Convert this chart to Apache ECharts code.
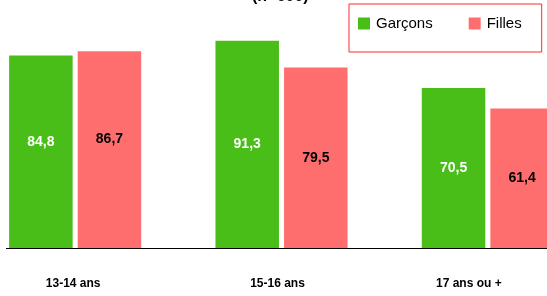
<!DOCTYPE html>
<html>
<head>
<meta charset="utf-8">
<script src="https://cdn.jsdelivr.net/npm/echarts@6/dist/echarts.min.js"></script>
<style>
html,body{margin:0;padding:0;background:#fff;}
#c{width:547px;height:296px;}
</style>
</head>
<body>
<div id="c"></div>
<script>
var categories = ['13-14 ans', '15-16 ans', '17 ans ou +'];
var garcons = [84.8, 91.3, 70.5];
var filles = [86.7, 79.5, 61.4];
var seriesNames = ['Garçons', 'Filles'];
var titleText = '(n=600)';

var FONT = "'Liberation Sans', Arial, sans-serif";
var catShift = [4, 8, 38];
var labelLift = [-10, 0, 0];

function mkData(vals) {
  return vals.map(function (v, i) {
    return { value: v, label: { offset: [0, labelLift[i]] } };
  });
}

var chart = echarts.init(document.getElementById('c'), null, { renderer: 'canvas' });
chart.setOption({
  animation: false,
  backgroundColor: '#ffffff',
  title: {
    text: titleText,
    left: 252, top: -11,
    padding: 0,
    textStyle: { fontFamily: FONT, fontWeight: 'bold', fontSize: 16, color: '#000' }
  },
  legend: {
    left: 349, top: 4,
    width: 198,
    orient: 'horizontal',
    data: seriesNames,
    icon: 'rect',
    itemWidth: 12, itemHeight: 12,
    itemGap: 36,
    borderColor: '#ff2b2b', borderWidth: 1,
    padding: [12, 20, 21, 9],
    textStyle: { fontFamily: FONT, fontSize: 15, color: '#000', padding: [0, 0, 0, 1] }
  },
  grid: { left: -28, top: 21, right: -44, bottom: 48, containLabel: false, outerBoundsMode: 'none' },
  xAxis: {
    type: 'category',
    data: categories.map(function (c, i) {
      return { value: c, textStyle: { padding: [0, catShift[i], 0, 0] } };
    }),
    axisLine: { show: false },
    axisTick: { show: false },
    axisLabel: { margin: 30, fontFamily: FONT, fontWeight: 'bold', fontSize: 12, color: '#000' }
  },
  yAxis: {
    type: 'value', min: 0, max: 100,
    show: false,
    splitLine: { show: false }
  },
  series: [
    {
      name: seriesNames[0], type: 'bar',
      data: mkData(garcons),
      barWidth: 63.5, barGap: '8%',
      itemStyle: { color: '#49be18' },
      label: {
        show: true, position: 'inside',
        formatter: function (p) { return String(p.value).replace('.', ','); },
        fontFamily: FONT, fontWeight: 'bold', fontSize: 14, color: '#ffffff'
      }
    },
    {
      name: seriesNames[1], type: 'bar',
      data: mkData(filles),
      barWidth: 63.5, barGap: '8%',
      itemStyle: { color: '#ff6e6e' },
      label: {
        show: true, position: 'inside',
        formatter: function (p) { return String(p.value).replace('.', ','); },
        fontFamily: FONT, fontWeight: 'bold', fontSize: 14, color: '#000000'
      }
    }
  ],
  graphic: [
    {
      type: 'line',
      shape: { x1: 6, y1: 248.5, x2: 547, y2: 248.5 },
      style: { stroke: '#000', lineWidth: 1.2 },
      z: 100
    }
  ]
});
</script>
</body>
</html>
